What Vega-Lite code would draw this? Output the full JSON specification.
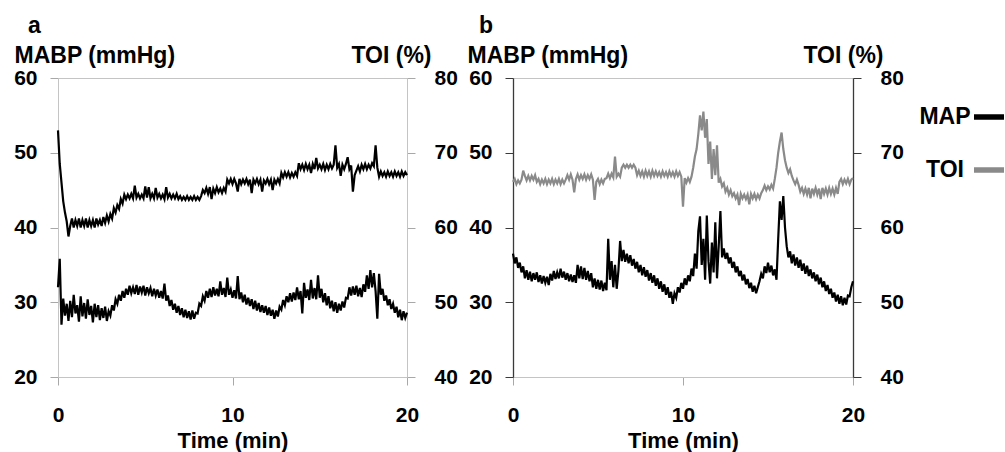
{
"$schema": "https://vega.github.io/schema/vega-lite/v6.json",
"background": "white",
"padding": {"left": 13, "top": 14, "right": 0, "bottom": 0},
"bounds": "flush",
"spacing": 106,
"config": {
 "view": {"stroke": "#c4c4c4", "strokeWidth": 1},
 "font": "Liberation Sans",
 "axis": {"labelFont": "Liberation Sans", "titleFont": "Liberation Sans", "labelColor": "#000", "titleColor": "#000", "grid": false, "labelFlush": false, "labelOverlap": false, "labelFontWeight": "bold", "titleFontWeight": "bold", "labelFontSize": 21, "titleFontSize": 23, "tickSize": 8, "labelPadding": 13},
 "title": {"font": "Liberation Sans", "fontSize": 23, "fontWeight": "bold", "anchor": "start", "frame": "group", "baseline": "alphabetic", "offset": 6, "color": "#000"},
 "legend": {"labelFont": "Liberation Sans", "labelFontSize": 23, "labelFontWeight": "bold", "labelColor": "#000"}
},
"datasets": {
"aM": [{"t":0,"v":32.0},{"t":0.1,"v":35.8},{"t":0.2,"v":27.0},{"t":0.3,"v":30.5},{"t":0.4,"v":28.2},{"t":0.5,"v":29.8},{"t":0.6,"v":27.5},{"t":0.7,"v":30.2},{"t":0.8,"v":28.0},{"t":0.9,"v":31.0},{"t":1.0,"v":28.5},{"t":1.1,"v":29.6},{"t":1.2,"v":27.4},{"t":1.3,"v":30.8},{"t":1.4,"v":28.1},{"t":1.5,"v":29.9},{"t":1.6,"v":27.8},{"t":1.7,"v":30.4},{"t":1.8,"v":28.3},{"t":1.9,"v":29.5},{"t":2.0,"v":27.3},{"t":2.1,"v":29.8},{"t":2.2,"v":28.0},{"t":2.3,"v":29.6},{"t":2.4,"v":27.6},{"t":2.5,"v":29.2},{"t":2.6,"v":27.9},{"t":2.7,"v":29.4},{"t":2.8,"v":27.5},{"t":2.9,"v":28.8},{"t":3.0,"v":28.2},{"t":3.1,"v":29.6},{"t":3.2,"v":28.9},{"t":3.3,"v":30.4},{"t":3.4,"v":29.8},{"t":3.5,"v":31.0},{"t":3.6,"v":30.2},{"t":3.7,"v":31.5},{"t":3.8,"v":30.6},{"t":3.9,"v":31.8},{"t":4.0,"v":31.0},{"t":4.1,"v":32.2},{"t":4.2,"v":31.2},{"t":4.3,"v":32.0},{"t":4.4,"v":31.1},{"t":4.5,"v":32.3},{"t":4.6,"v":31.0},{"t":4.7,"v":32.1},{"t":4.8,"v":31.3},{"t":4.9,"v":32.2},{"t":5.0,"v":30.9},{"t":5.1,"v":32.0},{"t":5.2,"v":31.2},{"t":5.3,"v":31.9},{"t":5.4,"v":30.8},{"t":5.5,"v":31.8},{"t":5.6,"v":30.9},{"t":5.7,"v":31.7},{"t":5.8,"v":30.6},{"t":5.9,"v":31.5},{"t":6.0,"v":30.5},{"t":6.1,"v":32.5},{"t":6.2,"v":30.2},{"t":6.3,"v":30.9},{"t":6.4,"v":29.5},{"t":6.5,"v":30.3},{"t":6.6,"v":29.0},{"t":6.7,"v":29.8},{"t":6.8,"v":28.6},{"t":6.9,"v":29.5},{"t":7.0,"v":28.3},{"t":7.1,"v":29.2},{"t":7.2,"v":28.0},{"t":7.3,"v":29.0},{"t":7.4,"v":27.9},{"t":7.5,"v":28.8},{"t":7.6,"v":27.7},{"t":7.7,"v":28.9},{"t":7.8,"v":27.8},{"t":7.9,"v":28.6},{"t":8.0,"v":28.5},{"t":8.1,"v":29.8},{"t":8.2,"v":29.5},{"t":8.3,"v":30.8},{"t":8.4,"v":30.2},{"t":8.5,"v":31.5},{"t":8.6,"v":30.6},{"t":8.7,"v":31.8},{"t":8.8,"v":30.7},{"t":8.9,"v":32.0},{"t":9.0,"v":30.9},{"t":9.1,"v":31.8},{"t":9.2,"v":30.8},{"t":9.3,"v":32.8},{"t":9.4,"v":31.0},{"t":9.5,"v":31.9},{"t":9.6,"v":30.7},{"t":9.7,"v":33.3},{"t":9.8,"v":31.0},{"t":9.9,"v":31.7},{"t":10.0,"v":30.6},{"t":10.1,"v":31.6},{"t":10.2,"v":30.5},{"t":10.3,"v":33.5},{"t":10.4,"v":30.4},{"t":10.5,"v":31.3},{"t":10.6,"v":30.0},{"t":10.7,"v":31.0},{"t":10.8,"v":29.7},{"t":10.9,"v":30.6},{"t":11.0,"v":29.5},{"t":11.1,"v":30.4},{"t":11.2,"v":29.1},{"t":11.3,"v":30.2},{"t":11.4,"v":28.9},{"t":11.5,"v":29.9},{"t":11.6,"v":28.7},{"t":11.7,"v":29.6},{"t":11.8,"v":28.6},{"t":11.9,"v":29.5},{"t":12.0,"v":28.3},{"t":12.1,"v":29.3},{"t":12.2,"v":28.2},{"t":12.3,"v":29.0},{"t":12.4,"v":27.8},{"t":12.5,"v":28.9},{"t":12.6,"v":28.1},{"t":12.7,"v":29.4},{"t":12.8,"v":29.0},{"t":12.9,"v":30.3},{"t":13.0,"v":29.6},{"t":13.1,"v":30.8},{"t":13.2,"v":30.0},{"t":13.3,"v":31.2},{"t":13.4,"v":30.1},{"t":13.5,"v":31.3},{"t":13.6,"v":30.3},{"t":13.7,"v":32.0},{"t":13.8,"v":30.4},{"t":13.9,"v":31.5},{"t":14.0,"v":28.5},{"t":14.1,"v":32.6},{"t":14.2,"v":30.6},{"t":14.3,"v":31.7},{"t":14.4,"v":30.3},{"t":14.5,"v":33.0},{"t":14.6,"v":30.5},{"t":14.7,"v":31.9},{"t":14.8,"v":30.4},{"t":14.9,"v":33.6},{"t":15.0,"v":30.6},{"t":15.1,"v":31.8},{"t":15.2,"v":30.0},{"t":15.3,"v":31.2},{"t":15.4,"v":29.6},{"t":15.5,"v":30.8},{"t":15.6,"v":29.2},{"t":15.7,"v":30.2},{"t":15.8,"v":28.8},{"t":15.9,"v":30.0},{"t":16.0,"v":28.6},{"t":16.1,"v":29.8},{"t":16.2,"v":28.9},{"t":16.3,"v":30.1},{"t":16.4,"v":29.3},{"t":16.5,"v":30.6},{"t":16.6,"v":30.5},{"t":16.7,"v":32.0},{"t":16.8,"v":30.9},{"t":16.9,"v":32.1},{"t":17.0,"v":31.0},{"t":17.1,"v":32.2},{"t":17.2,"v":30.8},{"t":17.3,"v":31.9},{"t":17.4,"v":30.7},{"t":17.5,"v":32.4},{"t":17.6,"v":31.4},{"t":17.7,"v":33.6},{"t":17.8,"v":31.8},{"t":17.9,"v":34.3},{"t":18.0,"v":32.0},{"t":18.1,"v":33.9},{"t":18.2,"v":31.5},{"t":18.3,"v":27.8},{"t":18.4,"v":33.8},{"t":18.5,"v":31.0},{"t":18.6,"v":31.8},{"t":18.7,"v":30.2},{"t":18.8,"v":30.9},{"t":18.9,"v":29.6},{"t":19.0,"v":30.4},{"t":19.1,"v":29.1},{"t":19.2,"v":29.8},{"t":19.3,"v":28.6},{"t":19.4,"v":29.4},{"t":19.5,"v":28.0},{"t":19.6,"v":29.0},{"t":19.7,"v":27.6},{"t":19.8,"v":28.8},{"t":19.9,"v":27.9},{"t":20.0,"v":28.6}],
"aT": [{"t":0,"v":73.0},{"t":0.1,"v":68.5},{"t":0.2,"v":66.0},{"t":0.3,"v":63.5},{"t":0.4,"v":62.0},{"t":0.5,"v":60.8},{"t":0.6,"v":58.8},{"t":0.7,"v":60.2},{"t":0.8,"v":61.2},{"t":0.9,"v":60.0},{"t":1.0,"v":61.0},{"t":1.1,"v":60.2},{"t":1.2,"v":61.2},{"t":1.3,"v":60.0},{"t":1.4,"v":61.0},{"t":1.5,"v":60.2},{"t":1.6,"v":61.2},{"t":1.7,"v":60.0},{"t":1.8,"v":61.0},{"t":1.9,"v":60.2},{"t":2.0,"v":61.0},{"t":2.1,"v":60.0},{"t":2.2,"v":61.2},{"t":2.3,"v":60.4},{"t":2.4,"v":61.0},{"t":2.5,"v":60.2},{"t":2.6,"v":61.4},{"t":2.7,"v":60.6},{"t":2.8,"v":61.6},{"t":2.9,"v":60.8},{"t":3.0,"v":61.8},{"t":3.1,"v":61.2},{"t":3.2,"v":62.6},{"t":3.3,"v":62.0},{"t":3.4,"v":63.0},{"t":3.5,"v":62.5},{"t":3.6,"v":63.8},{"t":3.7,"v":63.2},{"t":3.8,"v":64.4},{"t":3.9,"v":63.8},{"t":4.0,"v":64.4},{"t":4.1,"v":63.9},{"t":4.2,"v":64.5},{"t":4.3,"v":63.9},{"t":4.4,"v":65.6},{"t":4.5,"v":64.0},{"t":4.6,"v":64.5},{"t":4.7,"v":63.9},{"t":4.8,"v":64.4},{"t":4.9,"v":63.9},{"t":5.0,"v":65.5},{"t":5.1,"v":64.0},{"t":5.2,"v":65.4},{"t":5.3,"v":63.9},{"t":5.4,"v":64.5},{"t":5.5,"v":63.9},{"t":5.6,"v":65.3},{"t":5.7,"v":64.0},{"t":5.8,"v":64.5},{"t":5.9,"v":63.9},{"t":6.0,"v":64.4},{"t":6.1,"v":63.8},{"t":6.2,"v":65.4},{"t":6.3,"v":64.0},{"t":6.4,"v":64.5},{"t":6.5,"v":63.9},{"t":6.6,"v":64.4},{"t":6.7,"v":63.9},{"t":6.8,"v":64.5},{"t":6.9,"v":63.8},{"t":7.0,"v":64.2},{"t":7.1,"v":63.7},{"t":7.2,"v":64.1},{"t":7.3,"v":63.7},{"t":7.4,"v":64.2},{"t":7.5,"v":63.7},{"t":7.6,"v":64.1},{"t":7.7,"v":63.7},{"t":7.8,"v":64.2},{"t":7.9,"v":63.7},{"t":8.0,"v":64.1},{"t":8.1,"v":63.7},{"t":8.2,"v":64.2},{"t":8.3,"v":65.0},{"t":8.4,"v":64.6},{"t":8.5,"v":65.3},{"t":8.6,"v":64.5},{"t":8.7,"v":65.4},{"t":8.8,"v":63.8},{"t":8.9,"v":65.2},{"t":9.0,"v":64.6},{"t":9.1,"v":65.4},{"t":9.2,"v":64.7},{"t":9.3,"v":65.2},{"t":9.4,"v":64.6},{"t":9.5,"v":65.3},{"t":9.6,"v":64.8},{"t":9.7,"v":66.4},{"t":9.8,"v":65.9},{"t":9.9,"v":66.5},{"t":10.0,"v":65.8},{"t":10.1,"v":66.5},{"t":10.2,"v":65.9},{"t":10.3,"v":64.8},{"t":10.4,"v":66.5},{"t":10.5,"v":65.8},{"t":10.6,"v":66.4},{"t":10.7,"v":65.9},{"t":10.8,"v":66.5},{"t":10.9,"v":65.8},{"t":11.0,"v":66.4},{"t":11.1,"v":64.6},{"t":11.2,"v":66.4},{"t":11.3,"v":65.9},{"t":11.4,"v":66.5},{"t":11.5,"v":65.8},{"t":11.6,"v":66.4},{"t":11.7,"v":64.8},{"t":11.8,"v":66.3},{"t":11.9,"v":65.9},{"t":12.0,"v":66.5},{"t":12.1,"v":65.8},{"t":12.2,"v":66.4},{"t":12.3,"v":65.0},{"t":12.4,"v":66.4},{"t":12.5,"v":65.9},{"t":12.6,"v":66.5},{"t":12.7,"v":65.9},{"t":12.8,"v":67.3},{"t":12.9,"v":66.7},{"t":13.0,"v":67.4},{"t":13.1,"v":66.8},{"t":13.2,"v":67.4},{"t":13.3,"v":66.7},{"t":13.4,"v":67.3},{"t":13.5,"v":66.8},{"t":13.6,"v":67.4},{"t":13.7,"v":66.9},{"t":13.8,"v":68.6},{"t":13.9,"v":67.8},{"t":14.0,"v":68.4},{"t":14.1,"v":67.7},{"t":14.2,"v":68.5},{"t":14.3,"v":67.8},{"t":14.4,"v":68.4},{"t":14.5,"v":67.3},{"t":14.6,"v":68.5},{"t":14.7,"v":67.8},{"t":14.8,"v":69.3},{"t":14.9,"v":67.9},{"t":15.0,"v":68.4},{"t":15.1,"v":67.8},{"t":15.2,"v":68.5},{"t":15.3,"v":67.7},{"t":15.4,"v":68.4},{"t":15.5,"v":67.8},{"t":15.6,"v":68.5},{"t":15.7,"v":67.9},{"t":15.8,"v":68.4},{"t":15.9,"v":71.0},{"t":16.0,"v":68.0},{"t":16.1,"v":68.5},{"t":16.2,"v":66.9},{"t":16.3,"v":68.4},{"t":16.4,"v":67.8},{"t":16.5,"v":68.5},{"t":16.6,"v":69.4},{"t":16.7,"v":67.8},{"t":16.8,"v":68.3},{"t":16.9,"v":64.8},{"t":17.0,"v":67.0},{"t":17.1,"v":67.6},{"t":17.2,"v":68.2},{"t":17.3,"v":67.5},{"t":17.4,"v":68.4},{"t":17.5,"v":67.8},{"t":17.6,"v":68.5},{"t":17.7,"v":67.8},{"t":17.8,"v":68.4},{"t":17.9,"v":67.9},{"t":18.0,"v":68.6},{"t":18.1,"v":68.2},{"t":18.2,"v":71.0},{"t":18.3,"v":68.0},{"t":18.4,"v":66.8},{"t":18.5,"v":67.5},{"t":18.6,"v":66.9},{"t":18.7,"v":67.4},{"t":18.8,"v":66.8},{"t":18.9,"v":67.5},{"t":19.0,"v":66.9},{"t":19.1,"v":67.4},{"t":19.2,"v":66.8},{"t":19.3,"v":67.5},{"t":19.4,"v":66.9},{"t":19.5,"v":67.4},{"t":19.6,"v":66.8},{"t":19.7,"v":67.5},{"t":19.8,"v":66.9},{"t":19.9,"v":67.4},{"t":20.0,"v":67.0}],
"bM": [{"t":0,"v":36.5},{"t":0.1,"v":35.2},{"t":0.2,"v":36.0},{"t":0.3,"v":34.6},{"t":0.4,"v":35.3},{"t":0.5,"v":34.0},{"t":0.6,"v":34.8},{"t":0.7,"v":33.2},{"t":0.8,"v":34.3},{"t":0.9,"v":33.0},{"t":1.0,"v":34.1},{"t":1.1,"v":32.8},{"t":1.2,"v":33.9},{"t":1.3,"v":33.0},{"t":1.4,"v":34.0},{"t":1.5,"v":32.7},{"t":1.6,"v":33.6},{"t":1.7,"v":32.5},{"t":1.8,"v":33.5},{"t":1.9,"v":32.6},{"t":2.0,"v":33.4},{"t":2.1,"v":32.3},{"t":2.2,"v":33.8},{"t":2.3,"v":32.9},{"t":2.4,"v":34.2},{"t":2.5,"v":33.1},{"t":2.6,"v":34.0},{"t":2.7,"v":33.2},{"t":2.8,"v":34.5},{"t":2.9,"v":33.3},{"t":3.0,"v":34.1},{"t":3.1,"v":33.0},{"t":3.2,"v":33.9},{"t":3.3,"v":32.8},{"t":3.4,"v":33.7},{"t":3.5,"v":32.7},{"t":3.6,"v":33.6},{"t":3.7,"v":32.6},{"t":3.8,"v":35.0},{"t":3.9,"v":33.2},{"t":4.0,"v":34.8},{"t":4.1,"v":33.1},{"t":4.2,"v":34.6},{"t":4.3,"v":33.0},{"t":4.4,"v":34.2},{"t":4.5,"v":32.8},{"t":4.6,"v":33.9},{"t":4.7,"v":32.0},{"t":4.8,"v":33.2},{"t":4.9,"v":31.8},{"t":5.0,"v":33.0},{"t":5.1,"v":31.7},{"t":5.2,"v":32.9},{"t":5.3,"v":31.5},{"t":5.4,"v":32.6},{"t":5.5,"v":31.6},{"t":5.6,"v":38.5},{"t":5.7,"v":33.0},{"t":5.8,"v":35.5},{"t":5.9,"v":32.0},{"t":6.0,"v":35.0},{"t":6.1,"v":31.8},{"t":6.2,"v":34.2},{"t":6.3,"v":38.2},{"t":6.4,"v":35.5},{"t":6.5,"v":37.0},{"t":6.6,"v":35.4},{"t":6.7,"v":36.5},{"t":6.8,"v":35.2},{"t":6.9,"v":36.3},{"t":7.0,"v":34.9},{"t":7.1,"v":35.8},{"t":7.2,"v":34.5},{"t":7.3,"v":35.4},{"t":7.4,"v":34.0},{"t":7.5,"v":35.0},{"t":7.6,"v":33.6},{"t":7.7,"v":34.7},{"t":7.8,"v":33.4},{"t":7.9,"v":34.3},{"t":8.0,"v":32.9},{"t":8.1,"v":33.9},{"t":8.2,"v":32.6},{"t":8.3,"v":33.6},{"t":8.4,"v":32.2},{"t":8.5,"v":33.2},{"t":8.6,"v":31.8},{"t":8.7,"v":32.8},{"t":8.8,"v":31.4},{"t":8.9,"v":32.4},{"t":9.0,"v":31.0},{"t":9.1,"v":32.0},{"t":9.2,"v":30.6},{"t":9.3,"v":31.4},{"t":9.4,"v":29.8},{"t":9.5,"v":31.2},{"t":9.6,"v":30.6},{"t":9.7,"v":32.0},{"t":9.8,"v":31.3},{"t":9.9,"v":32.6},{"t":10.0,"v":31.8},{"t":10.1,"v":33.2},{"t":10.2,"v":32.3},{"t":10.3,"v":33.6},{"t":10.4,"v":32.8},{"t":10.5,"v":34.5},{"t":10.6,"v":33.5},{"t":10.7,"v":36.5},{"t":10.8,"v":34.5},{"t":10.9,"v":39.5},{"t":11.0,"v":41.5},{"t":11.1,"v":35.0},{"t":11.2,"v":38.5},{"t":11.3,"v":33.0},{"t":11.4,"v":41.6},{"t":11.5,"v":35.5},{"t":11.6,"v":32.5},{"t":11.7,"v":38.0},{"t":11.8,"v":34.0},{"t":11.9,"v":40.7},{"t":12.0,"v":33.2},{"t":12.1,"v":37.5},{"t":12.2,"v":42.2},{"t":12.3,"v":36.0},{"t":12.4,"v":37.2},{"t":12.5,"v":35.8},{"t":12.6,"v":36.6},{"t":12.7,"v":35.2},{"t":12.8,"v":36.0},{"t":12.9,"v":34.6},{"t":13.0,"v":35.4},{"t":13.1,"v":34.0},{"t":13.2,"v":34.8},{"t":13.3,"v":33.5},{"t":13.4,"v":34.2},{"t":13.5,"v":32.9},{"t":13.6,"v":33.7},{"t":13.7,"v":32.4},{"t":13.8,"v":33.1},{"t":13.9,"v":31.9},{"t":14.0,"v":32.6},{"t":14.1,"v":31.4},{"t":14.2,"v":32.2},{"t":14.3,"v":31.2},{"t":14.4,"v":32.0},{"t":14.5,"v":32.8},{"t":14.6,"v":33.8},{"t":14.7,"v":33.2},{"t":14.8,"v":34.8},{"t":14.9,"v":33.9},{"t":15.0,"v":35.3},{"t":15.1,"v":34.0},{"t":15.2,"v":34.9},{"t":15.3,"v":33.6},{"t":15.4,"v":34.4},{"t":15.5,"v":33.0},{"t":15.6,"v":38.5},{"t":15.7,"v":43.5},{"t":15.8,"v":41.0},{"t":15.9,"v":44.2},{"t":16.0,"v":40.0},{"t":16.1,"v":37.5},{"t":16.2,"v":36.0},{"t":16.3,"v":36.8},{"t":16.4,"v":35.2},{"t":16.5,"v":36.4},{"t":16.6,"v":34.9},{"t":16.7,"v":36.0},{"t":16.8,"v":34.6},{"t":16.9,"v":35.7},{"t":17.0,"v":34.2},{"t":17.1,"v":35.2},{"t":17.2,"v":33.8},{"t":17.3,"v":34.9},{"t":17.4,"v":33.5},{"t":17.5,"v":34.4},{"t":17.6,"v":33.2},{"t":17.7,"v":34.0},{"t":17.8,"v":32.8},{"t":17.9,"v":33.7},{"t":18.0,"v":32.4},{"t":18.1,"v":33.3},{"t":18.2,"v":32.0},{"t":18.3,"v":32.8},{"t":18.4,"v":31.5},{"t":18.5,"v":32.3},{"t":18.6,"v":31.1},{"t":18.7,"v":31.8},{"t":18.8,"v":30.6},{"t":18.9,"v":31.3},{"t":19.0,"v":30.1},{"t":19.1,"v":31.0},{"t":19.2,"v":29.8},{"t":19.3,"v":30.8},{"t":19.4,"v":29.6},{"t":19.5,"v":30.6},{"t":19.6,"v":29.7},{"t":19.7,"v":30.9},{"t":19.8,"v":30.8},{"t":19.9,"v":32.0},{"t":20.0,"v":32.8}],
"bT": [{"t":0,"v":66.1},{"t":0.1,"v":66.5},{"t":0.2,"v":65.8},{"t":0.3,"v":66.3},{"t":0.4,"v":65.9},{"t":0.5,"v":66.4},{"t":0.6,"v":67.6},{"t":0.7,"v":66.9},{"t":0.8,"v":66.3},{"t":0.9,"v":66.9},{"t":1.0,"v":66.3},{"t":1.1,"v":66.9},{"t":1.2,"v":66.4},{"t":1.3,"v":67.0},{"t":1.4,"v":66.1},{"t":1.5,"v":66.5},{"t":1.6,"v":65.8},{"t":1.7,"v":66.4},{"t":1.8,"v":65.9},{"t":1.9,"v":66.5},{"t":2.0,"v":65.8},{"t":2.1,"v":66.4},{"t":2.2,"v":65.9},{"t":2.3,"v":66.5},{"t":2.4,"v":65.8},{"t":2.5,"v":66.4},{"t":2.6,"v":65.9},{"t":2.7,"v":66.5},{"t":2.8,"v":65.8},{"t":2.9,"v":66.4},{"t":3.0,"v":65.9},{"t":3.1,"v":66.4},{"t":3.2,"v":67.0},{"t":3.3,"v":66.4},{"t":3.4,"v":67.1},{"t":3.5,"v":66.4},{"t":3.6,"v":64.7},{"t":3.7,"v":66.5},{"t":3.8,"v":67.1},{"t":3.9,"v":66.4},{"t":4.0,"v":67.0},{"t":4.1,"v":66.5},{"t":4.2,"v":67.1},{"t":4.3,"v":66.4},{"t":4.4,"v":67.0},{"t":4.5,"v":66.5},{"t":4.6,"v":67.1},{"t":4.7,"v":66.4},{"t":4.8,"v":63.7},{"t":4.9,"v":66.1},{"t":5.0,"v":66.5},{"t":5.1,"v":65.8},{"t":5.2,"v":66.4},{"t":5.3,"v":65.9},{"t":5.4,"v":66.5},{"t":5.5,"v":66.6},{"t":5.6,"v":67.2},{"t":5.7,"v":66.6},{"t":5.8,"v":67.2},{"t":5.9,"v":66.7},{"t":6.0,"v":69.5},{"t":6.1,"v":66.8},{"t":6.2,"v":67.2},{"t":6.3,"v":66.8},{"t":6.4,"v":68.0},{"t":6.5,"v":68.4},{"t":6.6,"v":68.0},{"t":6.7,"v":68.4},{"t":6.8,"v":68.0},{"t":6.9,"v":68.4},{"t":7.0,"v":68.0},{"t":7.1,"v":68.4},{"t":7.2,"v":68.0},{"t":7.3,"v":67.0},{"t":7.4,"v":67.6},{"t":7.5,"v":66.9},{"t":7.6,"v":67.5},{"t":7.7,"v":66.8},{"t":7.8,"v":67.6},{"t":7.9,"v":66.9},{"t":8.0,"v":67.5},{"t":8.1,"v":66.8},{"t":8.2,"v":67.6},{"t":8.3,"v":66.9},{"t":8.4,"v":67.5},{"t":8.5,"v":66.9},{"t":8.6,"v":67.4},{"t":8.7,"v":66.8},{"t":8.8,"v":67.5},{"t":8.9,"v":66.9},{"t":9.0,"v":67.4},{"t":9.1,"v":66.8},{"t":9.2,"v":67.5},{"t":9.3,"v":66.9},{"t":9.4,"v":67.4},{"t":9.5,"v":66.8},{"t":9.6,"v":67.5},{"t":9.7,"v":66.9},{"t":9.8,"v":67.4},{"t":9.9,"v":66.8},{"t":10.0,"v":62.8},{"t":10.1,"v":66.6},{"t":10.2,"v":66.0},{"t":10.3,"v":66.6},{"t":10.4,"v":66.1},{"t":10.5,"v":66.8},{"t":10.6,"v":68.0},{"t":10.7,"v":69.5},{"t":10.8,"v":70.5},{"t":10.9,"v":72.5},{"t":11.0,"v":75.0},{"t":11.1,"v":73.0},{"t":11.2,"v":75.5},{"t":11.3,"v":72.0},{"t":11.4,"v":74.5},{"t":11.5,"v":68.5},{"t":11.6,"v":71.5},{"t":11.7,"v":66.5},{"t":11.8,"v":70.5},{"t":11.9,"v":67.0},{"t":12.0,"v":71.0},{"t":12.1,"v":66.0},{"t":12.2,"v":66.5},{"t":12.3,"v":65.5},{"t":12.4,"v":65.9},{"t":12.5,"v":64.8},{"t":12.6,"v":65.3},{"t":12.7,"v":64.4},{"t":12.8,"v":65.0},{"t":12.9,"v":64.2},{"t":13.0,"v":64.6},{"t":13.1,"v":63.9},{"t":13.2,"v":64.4},{"t":13.3,"v":63.0},{"t":13.4,"v":64.5},{"t":13.5,"v":63.9},{"t":13.6,"v":64.4},{"t":13.7,"v":63.8},{"t":13.8,"v":64.4},{"t":13.9,"v":63.1},{"t":14.0,"v":64.5},{"t":14.1,"v":63.9},{"t":14.2,"v":64.5},{"t":14.3,"v":63.8},{"t":14.4,"v":64.4},{"t":14.5,"v":63.9},{"t":14.6,"v":64.6},{"t":14.7,"v":65.0},{"t":14.8,"v":65.6},{"t":14.9,"v":65.0},{"t":15.0,"v":65.5},{"t":15.1,"v":65.1},{"t":15.2,"v":65.7},{"t":15.3,"v":65.2},{"t":15.4,"v":66.5},{"t":15.5,"v":68.0},{"t":15.6,"v":70.0},{"t":15.7,"v":71.5},{"t":15.8,"v":72.7},{"t":15.9,"v":70.5},{"t":16.0,"v":69.0},{"t":16.1,"v":68.0},{"t":16.2,"v":67.3},{"t":16.3,"v":67.8},{"t":16.4,"v":66.9},{"t":16.5,"v":66.3},{"t":16.6,"v":65.8},{"t":16.7,"v":66.4},{"t":16.8,"v":65.7},{"t":16.9,"v":64.8},{"t":17.0,"v":65.3},{"t":17.1,"v":64.5},{"t":17.2,"v":65.2},{"t":17.3,"v":64.4},{"t":17.4,"v":65.3},{"t":17.5,"v":63.9},{"t":17.6,"v":65.2},{"t":17.7,"v":64.5},{"t":17.8,"v":65.3},{"t":17.9,"v":64.4},{"t":18.0,"v":65.2},{"t":18.1,"v":63.8},{"t":18.2,"v":65.3},{"t":18.3,"v":64.5},{"t":18.4,"v":65.2},{"t":18.5,"v":64.4},{"t":18.6,"v":65.3},{"t":18.7,"v":64.5},{"t":18.8,"v":65.2},{"t":18.9,"v":64.4},{"t":19.0,"v":65.3},{"t":19.1,"v":64.5},{"t":19.2,"v":66.1},{"t":19.3,"v":66.5},{"t":19.4,"v":65.8},{"t":19.5,"v":66.4},{"t":19.6,"v":65.9},{"t":19.7,"v":66.5},{"t":19.8,"v":65.8},{"t":19.9,"v":66.4},{"t":20.0,"v":66.6}]
},
"hconcat": [
 {
  "width": 349, "height": 299,
  "title": {"text": "a", "dx": -30},
  "encoding": {"x": {"field": "t", "type": "quantitative", "scale": {"domain": [0, 20], "nice": false},
    "axis": {"values": [0, 10, 20], "domainColor": "#c4c4c4", "tickColor": "#a8a8a8", "tickSize": 8, "labelPadding": 19, "title": "Time (min)", "titleFontSize": 22, "titleBaseline": "alphabetic", "titleY": 70}}},
  "layer": [
   {"data": {"name": "aM"}, "mark": {"type": "line", "color": "#000", "strokeWidth": 2.2},
    "encoding": {"y": {"field": "v", "type": "quantitative", "scale": {"domain": [20, 60], "nice": false},
      "axis": {"values": [20, 30, 40, 50, 60], "domainColor": "#c4c4c4", "tickColor": "#a8a8a8", "title": "MABP (mmHg)", "titleAngle": 0, "titleAlign": "left", "titleBaseline": "alphabetic", "titleX": -44, "titleY": -16}}}},
   {"data": {"name": "aT"}, "mark": {"type": "line", "color": "#000", "strokeWidth": 2.2},
    "encoding": {"y": {"field": "v", "type": "quantitative", "scale": {"domain": [40, 80], "nice": false},
      "axis": {"orient": "right", "values": [40, 50, 60, 70, 80], "domainColor": "#c4c4c4", "tickColor": "#a8a8a8", "labelPadding": 19, "title": "TOI (%)", "titleAngle": 0, "titleAlign": "right", "titleBaseline": "alphabetic", "titleX": 24, "titleY": -16}}}}
  ],
  "resolve": {"scale": {"y": "independent"}}
 },
 {
  "width": 340, "height": 299,
  "title": {"text": "b", "dx": -34},
  "encoding": {"x": {"field": "t", "type": "quantitative", "scale": {"domain": [0, 20], "nice": false},
    "axis": {"values": [0, 10, 20], "domainColor": "#c4c4c4", "tickColor": "#a8a8a8", "tickSize": 8, "labelPadding": 19, "title": "Time (min)", "titleFontSize": 22, "titleBaseline": "alphabetic", "titleY": 70}}},
  "layer": [
   {"data": {"name": "bM"}, "mark": {"type": "line", "strokeWidth": 2.2},
    "encoding": {
     "color": {"datum": "MAP", "type": "nominal", "scale": {"domain": ["MAP", "TOI"], "range": ["#000000", "#8a8a8a"]},
       "legend": {"orient": "none", "legendX": 913, "legendY": 21, "title": null, "padding": 0, "symbolType": "stroke", "symbolSize": 900, "symbolStrokeWidth": 5.5, "labelAlign": "center", "labelOffset": -62, "rowPadding": 23}},
     "y": {"field": "v", "type": "quantitative", "scale": {"domain": [20, 60], "nice": false},
      "axis": {"values": [20, 30, 40, 50, 60], "domainColor": "#3a3a3a", "tickColor": "#3a3a3a", "domainWidth": 1.3, "title": "MABP (mmHg)", "titleAngle": 0, "titleAlign": "left", "titleBaseline": "alphabetic", "titleX": -46, "titleY": -16}}}},
   {"data": {"name": "bT"}, "mark": {"type": "line", "strokeWidth": 2.2},
    "encoding": {
     "color": {"datum": "TOI", "type": "nominal"},
     "y": {"field": "v", "type": "quantitative", "scale": {"domain": [40, 80], "nice": false},
      "axis": {"orient": "right", "values": [40, 50, 60, 70, 80], "domainColor": "#3a3a3a", "tickColor": "#3a3a3a", "domainWidth": 1.3, "labelPadding": 19, "title": "TOI (%)", "titleAngle": 0, "titleAlign": "right", "titleBaseline": "alphabetic", "titleX": 30, "titleY": -16}}}}
  ],
  "resolve": {"scale": {"y": "independent"}}
 }
]
}
